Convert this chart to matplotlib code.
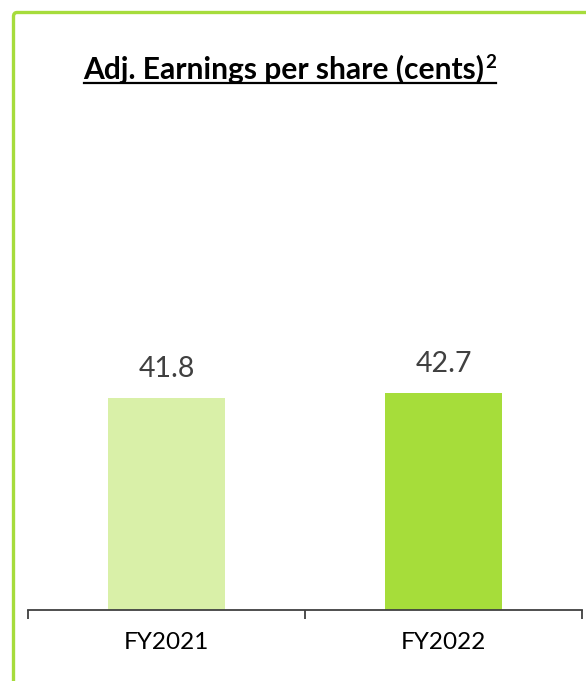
import matplotlib
matplotlib.use("Agg")
import matplotlib.pyplot as plt
from matplotlib.patches import FancyBboxPatch
from matplotlib.lines import Line2D

categories = ["FY2021", "FY2022"]
values = [41.8, 42.7]
bar_colors = ["#D9F0A8", "#A6DD3A"]
title = "Adj. Earnings per share (cents)"

W, H = 586, 681
fig = plt.figure(figsize=(W / 100, H / 100), dpi=100)

# green frame (rounded top-left corner, continues beyond the edges)
frame = FancyBboxPatch((13.5 / W, -50 / H), (W + 50) / W, (H - 12.5 + 50) / H,
                       boxstyle="round,pad=0,rounding_size=0.006",
                       transform=fig.transFigure, fill=False,
                       edgecolor="#A6DC3C", linewidth=2.4, zorder=0)
fig.patches.append(frame)

ax_left, ax_right = 28, 582
ax_bottom, ax_top = 609.5, 100
ax = fig.add_axes([ax_left / W, (H - ax_bottom) / H,
                   (ax_right - ax_left) / W, (ax_bottom - ax_top) / H])
ax.patch.set_alpha(0)

x = list(range(len(categories)))
bars = ax.bar(x, values, width=0.42, color=bar_colors, zorder=2)
ax.set_xlim(-0.5, 1.5)
ax.set_ylim(0, 100.6)

for xi, v in zip(x, values):
    ax.annotate(f"{v}", (xi, v), xytext=(0, 11.5), textcoords="offset points",
                ha="center", va="bottom", fontsize=20.5, color="#404040",
                family="Lato")

for s in ["top", "right", "left"]:
    ax.spines[s].set_visible(False)
ax.spines["bottom"].set_color("#404040")
ax.spines["bottom"].set_linewidth(1.3)
ax.set_yticks([])
ax.set_xticks(x, categories, family="Lato", fontsize=17.5, color="black")
ax.tick_params(axis="x", which="major", length=0, pad=16.5)
ax.set_xticks([-0.5, 0.5, 1.5], minor=True)
ax.tick_params(axis="x", which="minor", length=6.5, width=1.3, color="#404040")

# title with superscript and underline
t = fig.text(0.0, 0.0, title, family="Lato", fontweight="bold", fontsize=21.6,
             color="black", ha="left", va="baseline")
sup = fig.text(0, 0, "2", family="Lato", fontweight="bold", fontsize=13.5,
               color="black", ha="left", va="baseline")
fig.canvas.draw()
r = fig.canvas.get_renderer()
tb = t.get_window_extent(r)
sb = sup.get_window_extent(r)
total = tb.width + 1 + sb.width
cx = 290
x0 = cx - total / 2
base_y = H - 78.5
t.set_position((x0 / W, base_y / H))
sup.set_position(((x0 + tb.width + 1) / W, (base_y + 10.5) / H))
fig.add_artist(Line2D([x0 / W, (x0 + total) / W], [(H - 82.5) / H] * 2,
                      transform=fig.transFigure, color="black", linewidth=1.6))

fig.savefig("out.png", dpi=100)
